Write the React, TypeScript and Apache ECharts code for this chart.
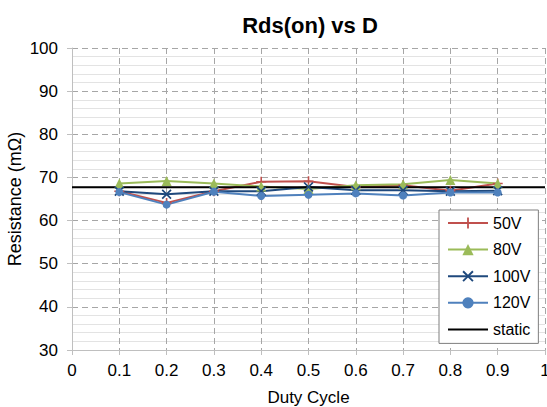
import React, { useEffect, useRef } from "react";
import * as echarts from "echarts";

const dutyCycle = [0.1, 0.2, 0.3, 0.4, 0.5, 0.6, 0.7, 0.8, 0.9];
const v50 = [66.8, 64.1, 66.8, 69.0, 69.1, 67.8, 68.2, 66.9, 68.6];
const v80 = [68.6, 69.2, 68.6, 67.9, 67.3, 68.2, 68.4, 69.4, 68.6];
const v100 = [66.8, 66.1, 66.8, 66.8, 67.8, 67.0, 67.0, 66.8, 66.9];
const v120 = [66.6, 63.7, 66.7, 65.7, 66.0, 66.3, 65.8, 66.5, 66.5];
const staticX = [0, 1];
const staticValue = 67.7;

const FONT = "'Liberation Sans', Arial, sans-serif";
const PLUS = "path://M4.2,0H5.8V4.2H10V5.8H5.8V10H4.2V5.8H0V4.2H4.2Z";
const CROSS = "path://M0,1.2L1.2,0L5,3.8L8.8,0L10,1.2L6.2,5L10,8.8L8.8,10L5,6.2L1.2,10L0,8.8L3.8,5Z";
const FLAT = "path://M0,0H40V2H0Z";

const pairs = (ys: number[]) => dutyCycle.map((x, i) => [x, ys[i]]);

export default function App() {
  const ref = useRef<HTMLDivElement>(null);
  useEffect(() => {
    if (!ref.current) return;
    const chart = echarts.init(ref.current, null, { renderer: "svg" });
    const mk = (name: string, data: number[], color: string, symbol: string, size: number) => ({
      name,
      type: "line",
      data: pairs(data),
      symbol,
      symbolSize: size,
      showSymbol: true,
      lineStyle: { color, width: 2 },
      itemStyle: { color },
    });
    chart.setOption({
      animation: false,
      backgroundColor: "#ffffff",
      textStyle: { fontFamily: FONT },
      title: {
        text: "Rds(on) vs D",
        left: 305,
        top: 9,
        textAlign: "center",
        textStyle: { fontFamily: FONT, fontSize: 22, fontWeight: "bold", color: "#000" },
      },
      grid: { left: 72, right: 2, top: 48, bottom: 57, containLabel: false, outerBoundsMode: "none" },
      legend: {
        orient: "vertical",
        left: 439,
        top: 210,
        padding: [5, 8, 6, 8],
        itemGap: 10.6,
        itemWidth: 40,
        itemHeight: 14,
        borderColor: "#7f7f7f",
        borderWidth: 1,
        backgroundColor: "#ffffff",
        textStyle: { fontFamily: FONT, fontSize: 16, color: "#000" },
        data: ["50V", "80V", "100V", "120V", { name: "static", icon: FLAT }],
      },
      xAxis: {
        type: "value",
        min: 0,
        max: 1,
        interval: 0.1,
        name: "Duty Cycle",
        nameLocation: "middle",
        nameGap: 39,
        nameMoveOverlap: false,
        nameTextStyle: { fontFamily: FONT, fontSize: 17, color: "#000" },
        axisLine: { show: true, onZero: false, lineStyle: { color: "#bfbfbf", width: 1 } },
        axisTick: { show: true, length: 5, inside: false, lineStyle: { color: "#bfbfbf" } },
        axisLabel: {
          fontFamily: FONT,
          fontSize: 17,
          color: "#000",
          margin: 12,
          formatter: (v: number) => String(+v.toFixed(1)),
        },
        splitLine: { show: true, lineStyle: { color: "#a6a6a6", type: [6, 4], width: 1 } },
      },
      yAxis: {
        type: "value",
        min: 30,
        max: 100,
        interval: 10,
        name: "Resistance (mΩ)",
        nameLocation: "middle",
        nameGap: 48,
        nameMoveOverlap: false,
        nameTextStyle: { fontFamily: FONT, fontSize: 18, color: "#000" },
        axisLine: { show: true, lineStyle: { color: "#bfbfbf", width: 1 } },
        axisTick: { show: true, length: 5, lineStyle: { color: "#bfbfbf" } },
        minorTick: { show: false, splitNumber: 5 },
        axisLabel: { fontFamily: FONT, fontSize: 17, color: "#000", margin: 14 },
        splitLine: { show: true, lineStyle: { color: "#a6a6a6", type: [6, 4], width: 1 } },
        minorSplitLine: { show: true, lineStyle: { color: "#e3e3e3", width: 1 } },
      },
      series: [
        mk("50V", v50, "#c0504d", PLUS, 10),
        mk("80V", v80, "#9bbb59", "triangle", 10),
        mk("100V", v100, "#1f497d", CROSS, 10),
        mk("120V", v120, "#4f81bd", "circle", 8),
        {
          name: "static",
          type: "line",
          data: staticX.map((x) => [x, staticValue]),
          symbol: "none",
          lineStyle: { color: "#000000", width: 2 },
          itemStyle: { color: "#000000" },
        },
      ],
    });
    return () => chart.dispose();
  }, []);
  return (
    <div
      ref={ref}
      style={{ position: "fixed", left: 0, top: 0, width: 547, height: 407 }}
    />
  );
}
